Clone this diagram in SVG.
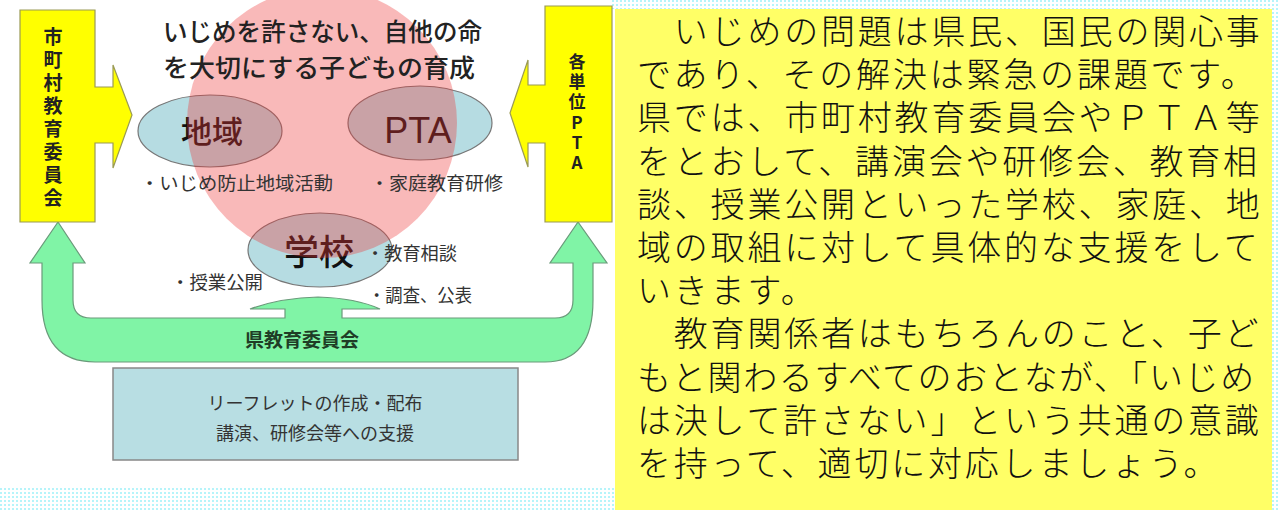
<svg xmlns="http://www.w3.org/2000/svg" width="1280" height="510" viewBox="0 0 1280 510">
<defs>
<pattern id="dots" width="4" height="4" patternUnits="userSpaceOnUse"><rect width="2" height="2" fill="#b6f4fa"/></pattern>
<style>
.jp{font-family:"Noto Sans CJK JP","Liberation Sans",sans-serif}
.ttl{font-size:25px;font-weight:500;fill:#222}
.vt{font-weight:bold;fill:#222;writing-mode:vertical-rl;text-orientation:upright}
.bul{font-size:18px;fill:#333}
.big{fill:#111;text-anchor:middle}
.ell{fill:#b6dce2;stroke:#777;stroke-width:1.2}
.body{font-family:"Liberation Serif","Noto Sans CJK JP",serif;font-size:34px;letter-spacing:2.8px;fill:#111;font-weight:300}
</style>
</defs>
<rect width="1280" height="510" fill="#ffffff"/>
<rect x="0" y="487" width="615" height="23" fill="url(#dots)"/>
<rect x="612" y="0" width="668" height="9" fill="url(#dots)"/>
<rect x="1272" y="0" width="8" height="510" fill="url(#dots)"/>
<g id="panel">
<rect x="615" y="9" width="657" height="501" fill="#ffff66"/>
<g class="body">
<text x="637" y="44">　いじめの問題は県民、国民の関心事</text>
<text x="637" y="87">であり、その解決は緊急の課題です。</text>
<text x="637" y="130">県では、市町村教育委員会やＰＴＡ等</text>
<text x="637" y="174">をとおして、講演会や研修会、教育相</text>
<text x="637" y="217">談、授業公開といった学校、家庭、地</text>
<text x="637" y="260">域の取組に対して具体的な支援をして</text>
<text x="637" y="303">いきます。</text>
<text x="637" y="346">　教育関係者はもちろんのこと、子ど</text>
<text x="637" y="390" textLength="620" lengthAdjust="spacing">もと関わるすべてのおとなが､「いじめ</text>
<text x="637" y="433">は決して許さない」という共通の意識</text>
<text x="637" y="476">を持って、適切に対応しましょう。</text>
</g>
</g>
<g id="connectors">
<path id="green-arrow" d="M58,222 L85,263 L73,263 L73,300 Q73,318 91,318 L285,318 L285,309 L250,309 Q280,298 318,297 Q356,298 380,309 L342,309 L342,318 L555,318 Q573,318 573,300 L573,263 L550,263 L578,222 L607,263 L593,263 L593,300 Q593,362 545,362 L95,362 Q42,362 42,300 L42,263 L30,263 Z" fill="#80f4a6" stroke="#6a9a7a" stroke-width="1.2"/>
</g>
<g id="node-city">
<path d="M20,10 L95,10 L95,87 L113,87 L113,65 L132,115 L113,168 L113,143 L95,143 L95,222 L20,222 Z" fill="#ffff00" stroke="#9a9a55" stroke-width="1.2"/>
<text class="jp vt" x="53" y="27" style="font-size:19px;letter-spacing:4.1px">市町村教育委員会</text>
</g>
<g id="node-pta-unit">
<path d="M612,6 L612,222 L545,222 L545,143 L528,143 L528,167 L510,113 L528,60 L528,85 L545,85 L545,6 Z" fill="#ffff00" stroke="#9a9a55" stroke-width="1.2"/>
<text class="jp vt" x="577" y="53" style="font-size:17px;letter-spacing:3.2px">各単位PTA</text>
</g>
<g id="node-support">
<rect x="113" y="368" width="405" height="92" fill="#b8dee3" stroke="#888" stroke-width="1.5"/>
<g class="jp" style="font-size:18px;fill:#333;text-anchor:middle">
<text x="315" y="410">リーフレットの作成・配布</text>
<text x="315" y="440">講演、研修会等への支援</text>
</g>
</g>
<g id="node-chiiki">
<ellipse class="ell" cx="210" cy="131" rx="72" ry="36"/>
<text class="jp big" x="212" y="143" style="font-size:31px;font-weight:500">地域</text>
</g>
<g id="node-pta">
<ellipse class="ell" cx="420" cy="123" rx="72" ry="37"/>
<text class="big" x="418" y="143" style="font-family:'Liberation Sans',sans-serif;font-size:36px">PTA</text>
</g>
<g id="node-school">
<ellipse class="ell" cx="320" cy="250" rx="72" ry="37"/>
<text class="jp big" x="319" y="265" style="font-size:35px;font-weight:500">学校</text>
</g>
<circle id="pink-circle" cx="322" cy="123" r="135" fill="rgb(238,55,55)" fill-opacity="0.35"/>
<g id="title" class="jp ttl">
<text x="163" y="41" textLength="319" lengthAdjust="spacingAndGlyphs">いじめを許さない、自他の命</text>
<text x="163" y="77" textLength="312" lengthAdjust="spacingAndGlyphs">を大切にする子どもの育成</text>
</g>
<g id="bullets" class="jp bul">
<text x="140" y="190" textLength="193" lengthAdjust="spacingAndGlyphs">・いじめ防止地域活動</text>
<text x="370" y="190" textLength="133" lengthAdjust="spacingAndGlyphs">・家庭教育研修</text>
<text x="366" y="260" textLength="91" lengthAdjust="spacingAndGlyphs">・教育相談</text>
<text x="368" y="302" textLength="104" lengthAdjust="spacingAndGlyphs">・調査、公表</text>
<text x="171" y="289" textLength="92" lengthAdjust="spacingAndGlyphs">・授業公開</text>
</g>
<text id="label-pref" class="jp" x="302" y="347" style="font-size:19px;font-weight:bold;fill:#1f3d26;text-anchor:middle">県教育委員会</text>
</svg>
